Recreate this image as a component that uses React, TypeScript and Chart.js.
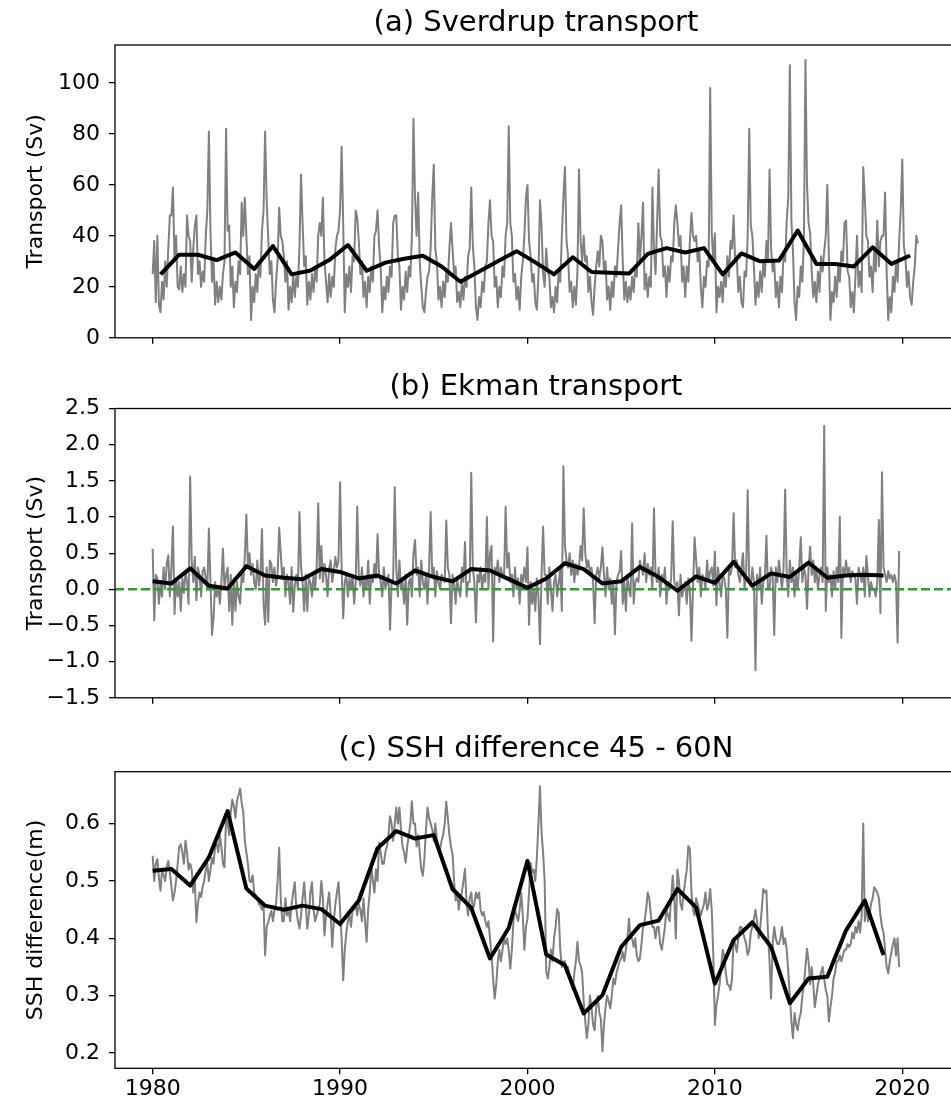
import React, { useEffect, useRef } from 'react';
import { Chart, registerables } from 'chart.js';

Chart.register(...registerables);

const FONT = "'DejaVu Sans', sans-serif";
const START_YEAR = 1980;
const X_MIN = 1977.99;
const X_MAX = 2022.92;
const X_TICKS = [1980, 1990, 2000, 2010, 2020];

// (a) Sverdrup transport, monthly (Sv), one row per year 1980..2020
const SV_MONTHLY: number[][] = [
  [25, 38, 14, 40, 13, 10, 22, 15, 30, 20, 35, 48],
  [48, 59, 30, 40, 20, 19, 28, 18, 25, 20, 48, 40],
  [38, 22, 35, 44, 48, 25, 30, 20, 26, 22, 40, 50],
  [81, 42, 22, 30, 13, 22, 14, 20, 15, 25, 30, 82],
  [42, 44, 20, 28, 12, 22, 18, 30, 25, 53, 40, 55],
  [40, 25, 32, 7, 20, 14, 25, 18, 30, 24, 42, 50],
  [81, 54, 39, 25, 30, 15, 10, 22, 30, 51, 40, 38],
  [32, 22, 30, 11, 20, 14, 25, 16, 24, 20, 36, 64],
  [45, 28, 32, 13, 22, 15, 25, 18, 28, 22, 40, 45],
  [40, 55, 30, 22, 14, 25, 16, 24, 20, 35, 40, 42],
  [50, 75, 45, 10, 25, 20, 28, 18, 32, 30, 50, 47],
  [38, 25, 30, 16, 22, 12, 24, 18, 28, 22, 40, 42],
  [50, 36, 28, 10, 20, 15, 24, 18, 28, 24, 45, 48],
  [48, 32, 28, 11, 20, 15, 26, 18, 28, 24, 40, 86],
  [55, 40, 57, 30, 20, 12, 10, 18, 24, 26, 35, 55],
  [68, 35, 30, 15, 20, 12, 22, 16, 26, 22, 35, 45],
  [35, 25, 28, 14, 18, 12, 22, 15, 24, 20, 32, 35],
  [59, 36, 28, 12, 7, 16, 12, 22, 18, 28, 30, 45],
  [54, 40, 38, 20, 24, 12, 20, 16, 28, 24, 40, 45],
  [83, 45, 40, 22, 25, 15, 20, 11, 24, 30, 40, 55],
  [60, 38, 32, 22, 25, 14, 11, 24, 54, 44, 25, 20],
  [35, 26, 24, 12, 16, 10, 20, 14, 26, 22, 40, 55],
  [67, 38, 32, 18, 22, 12, 20, 13, 26, 66, 38, 30],
  [40, 30, 32, 18, 24, 14, 9, 20, 28, 34, 28, 40],
  [38, 26, 30, 15, 20, 11, 22, 16, 28, 24, 35, 45],
  [52, 30, 15, 22, 14, 20, 15, 24, 18, 28, 24, 45],
  [30, 40, 53, 19, 25, 16, 24, 20, 59, 35, 25, 45],
  [66, 40, 38, 24, 28, 16, 28, 22, 32, 30, 45, 52],
  [45, 36, 40, 22, 28, 16, 28, 22, 38, 49, 40, 38],
  [40, 30, 35, 20, 12, 24, 20, 30, 28, 98, 41, 30],
  [41, 10, 20, 16, 22, 14, 26, 20, 32, 24, 38, 35],
  [48, 30, 32, 18, 24, 14, 12, 26, 24, 40, 82, 44],
  [40, 28, 13, 22, 16, 26, 18, 30, 24, 38, 30, 66],
  [35, 26, 30, 16, 22, 12, 24, 18, 34, 30, 46, 55],
  [107, 46, 34, 14, 7, 20, 16, 28, 22, 38, 109, 60],
  [45, 41, 26, 16, 22, 14, 26, 18, 32, 26, 34, 40],
  [60, 32, 7, 18, 14, 24, 16, 28, 22, 34, 30, 45],
  [46, 26, 24, 12, 18, 10, 24, 40, 20, 26, 18, 67],
  [55, 40, 38, 24, 28, 18, 34, 26, 46, 28, 38, 40],
  [40, 57, 26, 7, 16, 10, 24, 18, 30, 22, 38, 50],
  [70, 36, 32, 20, 26, 16, 13, 22, 28, 40, 37],
];
// (a) annual means 1980..2020
const SV_ANNUAL = [
  24.9, 32.6, 32.6, 30.5, 33.5, 27, 36, 24.9, 26.4, 30.5,
  36.4, 26.3, 29.5, 31, 32.2, 28, 22, 26, 30, 34,
  29.6, 24.9, 31.6, 25.8, 25.5, 25.2, 32.9, 35.2, 33.5, 35.2,
  24.9, 33.1, 30, 30.3, 42.1, 29, 29, 28, 35.5, 29, 32.3,
];
const SV_ANNUAL_OFFSET = 0.42;

// (b) Ekman transport, monthly (Sv), 1980..2019
const EK_MONTHLY: number[][] = [
  [0.56, -0.43, 0.2, 0.15, -0.2, 0.1, -0.1, 0.3, 0.0, 0.35, 0.47, -0.1],
  [0.3, 0.87, -0.34, 0.15, -0.1, 0.1, -0.3, 0.15, -0.05, 0.25, 0.1, -0.2],
  [1.56, 0.4, 0.1, 0.45, -0.15, 0.3, 0.2, -0.1, 0.25, 0.3, 0.15, 0.0],
  [0.84, 0.1, -0.63, -0.4, 0.1, -0.1, 0.05, -0.2, 0.1, 0.56, 0.0, 0.2],
  [0.3, -0.3, 0.2, -0.49, 0.15, -0.3, 0.1, -0.1, -0.2, 0.2, 0.1, 0.45],
  [1.03, 0.3, 0.5, 0.2, 0.35, 0.1, 0.0, 0.4, 0.05, 0.2, 0.83, -0.2],
  [-0.49, 0.3, -0.45, 0.4, 0.35, 0.1, 0.3, 0.05, 0.2, 0.85, 0.5, 0.15],
  [0.3, -0.1, 0.2, 0.1, -0.2, 0.3, -0.31, 0.05, 0.2, 0.0, 1.07, 0.3],
  [0.1, -0.3, 0.2, -0.3, 0.15, 0.1, -0.1, 0.2, 0.0, 0.3, 1.19, 0.15],
  [0.6, 0.1, 0.35, 0.2, -0.1, 0.3, 0.4, 0.1, 0.25, 0.45, 0.3, 0.4],
  [1.48, 0.3, -0.4, 0.1, 0.2, -0.1, 0.15, 0.0, 0.2, -0.2, 0.1, 1.14],
  [0.2, 0.05, 0.3, -0.1, 0.15, 0.0, 0.4, -0.2, 0.2, 0.1, 0.35, 0.15],
  [0.76, 0.2, 0.1, -0.1, 0.3, 0.0, 0.1, 0.2, -0.56, 0.1, 0.15, 1.41],
  [0.3, -0.1, 0.4, 0.0, 0.1, -0.2, 0.2, -0.49, 0.1, 0.15, -0.1, 0.5],
  [0.68, 0.2, 0.3, -0.1, 0.4, 0.1, 0.0, 0.2, -0.2, 0.3, 1.07, 0.2],
  [0.3, -0.1, 0.25, 0.1, 0.0, 0.2, 0.15, 0.1, 0.95, 0.3, 0.2, -0.47],
  [0.2, 0.1, -0.2, 0.15, 0.0, -0.1, 0.3, 0.1, 0.65, -0.1, 0.1, 0.1],
  [1.61, 0.3, 0.1, -0.46, 0.2, 0.1, 0.3, 0.0, 0.2, 0.1, 1.0, 0.0],
  [0.5, 0.6, -0.72, 0.3, 0.2, 0.4, 0.1, 0.3, 0.2, 0.15, 1.14, 0.3],
  [0.5, 0.1, 0.2, -0.1, 0.3, 0.0, 0.15, -0.2, 0.2, 0.1, 0.3, 0.1],
  [0.58, -0.49, 0.1, -0.2, 0.0, -0.3, 0.15, -0.1, -0.76, 0.2, 0.87, 0.2],
  [0.2, -0.2, 0.3, 0.0, -0.3, 0.1, 0.2, -0.1, 0.1, 0.3, -0.3, 1.7],
  [0.6, 0.4, 0.3, 0.5, 0.2, 0.4, 0.1, 0.35, 0.2, 0.3, 0.6, 0.4],
  [1.12, 0.5, 0.3, 0.4, 0.2, 0.3, 0.1, -0.47, 0.2, 0.3, 0.15, 0.3],
  [0.58, 0.2, -0.1, 0.3, 0.0, 0.15, -0.2, 0.1, -0.62, 0.1, 0.2, 0.25],
  [0.53, -0.2, 0.1, -0.3, 0.2, 0.0, -0.1, 0.91, -0.2, 0.1, 0.15, 0.1],
  [0.4, 0.3, 0.2, 0.5, 0.1, 0.35, 0.2, 0.3, 0.0, 1.12, 0.2, 0.1],
  [0.3, -0.1, 0.2, 0.1, 0.3, -0.2, 0.1, 0.0, 0.15, 0.94, 0.1, 0.05],
  [0.1, -0.36, 0.2, -0.1, 0.0, 0.1, -0.2, 0.15, 0.0, -0.71, 0.0, 0.72],
  [0.4, 0.1, 0.3, -0.1, 0.2, 0.15, 0.0, 0.4, 0.1, 0.25, 0.3, 0.05],
  [0.52, -0.22, 0.3, 0.1, -0.1, 0.2, 0.15, 0.0, -0.67, 0.3, 0.2, 0.3],
  [1.05, 0.3, 0.4, 0.2, 0.1, 0.3, 0.5, 0.0, 0.2, 1.37, 0.1, 0.05],
  [0.3, 0.1, -1.12, 0.2, 0.0, 0.3, -0.2, 0.1, 0.15, 0.74, 0.0, 0.0],
  [0.3, 0.2, -0.63, 0.3, 0.1, 0.4, 0.2, 0.0, 0.3, 1.38, 0.2, -0.1],
  [0.4, 0.1, 0.3, -0.1, 0.2, 0.0, 0.3, 0.72, 0.1, 0.3, 0.2, -0.27],
  [0.3, 0.59, 0.2, 0.4, 0.1, 0.3, 0.0, 0.2, 0.3, 0.1, 2.26, -0.3],
  [0.3, 0.1, 0.2, -0.1, 0.25, 0.0, 0.3, 0.1, 1.0, -0.67, 0.3, 0.2],
  [0.4, 0.2, 0.3, 0.1, 0.25, 0.2, 0.15, -0.2, 0.3, 0.2, 0.1, 0.3],
  [-0.1, 0.46, 0.2, -0.1, 0.1, 0.0, 0.0, -0.1, 0.1, 0.96, -0.33, 1.62],
  [0.3, 0.2, 0.1, 0.25, 0.15, 0.2, 0.1, 0.2, 0.1, -0.74, 0.53],
];
const EK_ANNUAL = [
  0.11, 0.08, 0.29, 0.05, 0.01, 0.32, 0.19, 0.16, 0.14, 0.28,
  0.24, 0.15, 0.19, 0.08, 0.26, 0.17, 0.11, 0.28, 0.26, 0.14,
  0.02, 0.15, 0.36, 0.28, 0.08, 0.11, 0.31, 0.17, -0.02, 0.18,
  0.09, 0.38, 0.05, 0.22, 0.17, 0.37, 0.16, 0.19, 0.2, 0.19,
];

// (c) SSH difference 45-60N, monthly (m), 1980..2019
const SSH_MONTHLY: number[][] = [
  [0.544, 0.5, 0.53, 0.538, 0.505, 0.483, 0.52, 0.51, 0.5, 0.525, 0.535, 0.515],
  [0.49, 0.466, 0.48, 0.5, 0.53, 0.56, 0.564, 0.55, 0.53, 0.57, 0.55, 0.52],
  [0.53, 0.52, 0.48, 0.5, 0.428, 0.46, 0.48, 0.472, 0.49, 0.5, 0.52, 0.53],
  [0.5, 0.52, 0.54, 0.53, 0.56, 0.565, 0.55, 0.58, 0.56, 0.53, 0.524, 0.61],
  [0.6, 0.58, 0.62, 0.642, 0.63, 0.61, 0.64, 0.65, 0.661, 0.636, 0.62, 0.57],
  [0.55, 0.53, 0.5, 0.498, 0.51, 0.48, 0.475, 0.47, 0.46, 0.457, 0.45, 0.46],
  [0.37, 0.42, 0.428, 0.44, 0.448, 0.43, 0.45, 0.46, 0.5, 0.558, 0.47, 0.43],
  [0.43, 0.47, 0.44, 0.45, 0.43, 0.46, 0.48, 0.498, 0.45, 0.43, 0.417, 0.44],
  [0.47, 0.498, 0.46, 0.417, 0.44, 0.48, 0.498, 0.45, 0.43, 0.44, 0.45, 0.46],
  [0.5, 0.47, 0.405, 0.44, 0.46, 0.48, 0.44, 0.385, 0.43, 0.46, 0.48, 0.498],
  [0.45, 0.4, 0.327, 0.38, 0.41, 0.43, 0.44, 0.42, 0.45, 0.45, 0.46, 0.44],
  [0.46, 0.45, 0.43, 0.47, 0.43, 0.394, 0.45, 0.48, 0.527, 0.5, 0.48, 0.52],
  [0.5, 0.567, 0.55, 0.53, 0.53, 0.55, 0.56, 0.58, 0.613, 0.6, 0.57, 0.6],
  [0.628, 0.6, 0.628, 0.59, 0.56, 0.55, 0.532, 0.56, 0.58, 0.6, 0.639, 0.6],
  [0.6, 0.56, 0.58, 0.55, 0.52, 0.509, 0.54, 0.59, 0.628, 0.61, 0.6, 0.59],
  [0.57, 0.6, 0.573, 0.56, 0.555, 0.57, 0.58, 0.6, 0.638, 0.61, 0.58, 0.56],
  [0.547, 0.5, 0.466, 0.48, 0.45, 0.47, 0.48, 0.5, 0.521, 0.46, 0.44, 0.47],
  [0.48, 0.45, 0.46, 0.48, 0.47, 0.48, 0.45, 0.44, 0.446, 0.43, 0.42, 0.43],
  [0.4, 0.37, 0.33, 0.295, 0.32, 0.36, 0.38, 0.36, 0.38, 0.4, 0.39, 0.4],
  [0.38, 0.347, 0.38, 0.43, 0.45, 0.44, 0.43, 0.45, 0.48, 0.44, 0.38, 0.42],
  [0.434, 0.48, 0.532, 0.515, 0.52, 0.5, 0.54, 0.6, 0.665, 0.584, 0.55, 0.5],
  [0.342, 0.33, 0.35, 0.38, 0.36, 0.4, 0.42, 0.451, 0.445, 0.38, 0.35, 0.36],
  [0.36, 0.34, 0.35, 0.33, 0.32, 0.31, 0.34, 0.36, 0.394, 0.36, 0.353, 0.34],
  [0.29, 0.255, 0.226, 0.25, 0.3, 0.28, 0.25, 0.24, 0.28, 0.3, 0.27, 0.26],
  [0.203, 0.25, 0.28, 0.3, 0.29, 0.278, 0.3, 0.33, 0.32, 0.34, 0.35, 0.36],
  [0.365, 0.376, 0.36, 0.38, 0.4, 0.434, 0.4, 0.4, 0.385, 0.4, 0.37, 0.36],
  [0.365, 0.39, 0.42, 0.43, 0.45, 0.48, 0.47, 0.44, 0.42, 0.42, 0.4, 0.42],
  [0.42, 0.39, 0.38, 0.4, 0.42, 0.45, 0.44, 0.43, 0.47, 0.509, 0.47, 0.4],
  [0.52, 0.5, 0.46, 0.45, 0.48, 0.5, 0.52, 0.561, 0.556, 0.48, 0.45, 0.44],
  [0.47, 0.46, 0.45, 0.44, 0.45, 0.46, 0.48, 0.45, 0.46, 0.486, 0.45, 0.37],
  [0.249, 0.284, 0.3, 0.32, 0.35, 0.38, 0.37, 0.34, 0.32, 0.318, 0.31, 0.33],
  [0.4, 0.39, 0.376, 0.4, 0.42, 0.42, 0.41, 0.4, 0.39, 0.371, 0.38, 0.41],
  [0.42, 0.434, 0.45, 0.43, 0.4, 0.417, 0.45, 0.486, 0.48, 0.483, 0.41, 0.36],
  [0.295, 0.39, 0.42, 0.4, 0.39, 0.39, 0.4, 0.42, 0.39, 0.4, 0.38, 0.342],
  [0.3, 0.255, 0.226, 0.27, 0.25, 0.24, 0.26, 0.27, 0.3, 0.32, 0.35, 0.382],
  [0.36, 0.32, 0.35, 0.32, 0.28, 0.3, 0.32, 0.33, 0.34, 0.35, 0.33, 0.31],
  [0.3, 0.255, 0.28, 0.3, 0.33, 0.34, 0.36, 0.36, 0.37, 0.36, 0.37, 0.38],
  [0.38, 0.39, 0.385, 0.39, 0.41, 0.4, 0.42, 0.41, 0.43, 0.41, 0.44, 0.6],
  [0.43, 0.46, 0.43, 0.44, 0.46, 0.47, 0.489, 0.485, 0.48, 0.47, 0.44, 0.42],
  [0.41, 0.38, 0.35, 0.339, 0.36, 0.375, 0.39, 0.4, 0.37, 0.4, 0.35],
];
const SSH_ANNUAL = [
  0.518, 0.521, 0.492, 0.541, 0.622, 0.487, 0.457, 0.45, 0.457, 0.451,
  0.425, 0.466, 0.557, 0.587, 0.574, 0.58, 0.486, 0.453, 0.365, 0.418,
  0.535, 0.372, 0.353, 0.269, 0.301, 0.385, 0.423, 0.431, 0.486, 0.454,
  0.321, 0.397, 0.428, 0.385, 0.287, 0.33, 0.333, 0.414, 0.466, 0.371,
];

const SV_Y_TICKS = [0, 20, 40, 60, 80, 100];
const EK_Y_TICKS = [-1.5, -1.0, -0.5, 0.0, 0.5, 1.0, 1.5, 2.0, 2.5];
const SSH_Y_TICKS = [0.2, 0.3, 0.4, 0.5, 0.6];

function monthlyPoints(rows: number[][]) {
  const pts: { x: number; y: number }[] = [];
  rows.forEach((row, i) =>
    row.forEach((v, m) => pts.push({ x: START_YEAR + i + m / 12, y: v }))
  );
  return pts;
}

function annualPoints(vals: number[], offset: number) {
  return vals.map((v, i) => ({ x: START_YEAR + i + offset, y: v }));
}

const fmt = (d: number) => (v: number) => {
  const s = Number(v).toFixed(d);
  return s.startsWith('-') ? '\u2212' + s.slice(1) : s;
};

const framePlugin = {
  id: 'frame',
  afterDatasetsDraw(chart: any) {
    const { ctx, chartArea: a } = chart;
    ctx.save();
    ctx.strokeStyle = '#000';
    ctx.lineWidth = 1.3;
    ctx.strokeRect(a.left, a.top, a.right - a.left, a.bottom - a.top);
    ctx.restore();
  },
};

interface PanelSpec {
  title: string;
  yLabel: string;
  yMin: number;
  yMax: number;
  yTicks: number[];
  yFmt: (v: number) => string;
  monthly: { x: number; y: number }[];
  annual: { x: number; y: number }[];
  zeroLine: boolean;
  showXLabels: boolean;
  titlePad: { top: number; bottom: number };
  padBottom: number;
  xAxisHeight: number;
}

const CANVAS_W = 960;
const TICK_LEN = 6;
const TITLE_SIZE = 29;

function buildConfig(p: PanelSpec): any {
  const datasets: any[] = [
    {
      data: p.annual,
      borderColor: '#000',
      borderWidth: 4,
      pointRadius: 0,
      borderJoinStyle: 'round',
      order: 0,
    },
  ];
  if (p.zeroLine) {
    datasets.push({
      data: [
        { x: X_MIN, y: 0 },
        { x: X_MAX, y: 0 },
      ],
      borderColor: '#2ca02c',
      borderWidth: 2.6,
      borderDash: [9, 4],
      pointRadius: 0,
      order: 1,
    });
  }
  datasets.push({
    data: p.monthly,
    borderColor: '#808080',
    borderWidth: 2,
    pointRadius: 0,
    borderJoinStyle: 'round',
    order: 2,
  });

  const gridOpts = {
    display: true,
    drawOnChartArea: false,
    drawTicks: true,
    tickLength: TICK_LEN,
    color: '#000',
    lineWidth: 1.3,
  };

  return {
    type: 'line',
    data: { datasets },
    plugins: [framePlugin],
    options: {
      responsive: false,
      animation: false,
      devicePixelRatio: 1,
      layout: { padding: { left: 0, right: 3, top: 0, bottom: p.padBottom } },
      elements: { point: { radius: 0 }, line: { tension: 0 } },
      plugins: {
        legend: { display: false },
        tooltip: { enabled: false },
        title: {
          display: true,
          text: p.title,
          fullSize: false,
          color: '#000',
          font: { family: FONT, size: TITLE_SIZE, weight: 'normal', lineHeight: 1.2 },
          padding: p.titlePad,
        },
      },
      scales: {
        x: {
          type: 'linear',
          min: X_MIN,
          max: X_MAX,
          afterBuildTicks: (s: any) => {
            s.ticks = X_TICKS.map((v) => ({ value: v }));
          },
          afterFit: (s: any) => {
            s.height = p.xAxisHeight;
          },
          grid: gridOpts,
          border: { display: false },
          ticks: {
            display: p.showXLabels,
            autoSkip: false,
            maxRotation: 0,
            padding: 2,
            color: '#000',
            font: { family: FONT, size: 22 },
            callback: (v: number) => String(v),
          },
        },
        y: {
          type: 'linear',
          min: p.yMin,
          max: p.yMax,
          afterBuildTicks: (s: any) => {
            s.ticks = p.yTicks.map((v) => ({ value: v }));
          },
          afterFit: (s: any) => {
            s.width = 115;
          },
          grid: gridOpts,
          border: { display: false },
          ticks: {
            autoSkip: false,
            padding: 9,
            color: '#000',
            font: { family: FONT, size: 22 },
            callback: (v: number) => p.yFmt(v),
          },
          title: {
            display: true,
            text: p.yLabel,
            color: '#000',
            font: { family: FONT, size: 22, lineHeight: 1.2 },
            padding: { top: 23, bottom: 0 },
          },
        },
      },
    },
  };
}

function Panel({ spec, top, height }: { spec: PanelSpec; top: number; height: number }) {
  const ref = useRef<HTMLCanvasElement | null>(null);
  useEffect(() => {
    if (!ref.current) return;
    const chart = new Chart(ref.current, buildConfig(spec));
    return () => chart.destroy();
  }, []);
  return (
    <canvas
      ref={ref}
      width={CANVAS_W}
      height={height}
      style={{ position: 'absolute', left: 0, top, width: CANVAS_W, height }}
    />
  );
}

const PANEL_A: PanelSpec = {
  title: '(a) Sverdrup transport',
  yLabel: 'Transport (Sv)',
  yMin: 0,
  yMax: 114.9,
  yTicks: SV_Y_TICKS,
  yFmt: fmt(0),
  monthly: monthlyPoints(SV_MONTHLY),
  annual: annualPoints(SV_ANNUAL, SV_ANNUAL_OFFSET),
  zeroLine: false,
  showXLabels: false,
  titlePad: { top: 5.6, bottom: 4.6 },
  padBottom: 12,
  xAxisHeight: TICK_LEN,
};

const PANEL_B: PanelSpec = {
  title: '(b) Ekman transport',
  yLabel: 'Transport (Sv)',
  yMin: -1.5,
  yMax: 2.5,
  yTicks: EK_Y_TICKS,
  yFmt: fmt(1),
  monthly: monthlyPoints(EK_MONTHLY),
  annual: annualPoints(EK_ANNUAL, 0),
  zeroLine: true,
  showXLabels: false,
  titlePad: { top: 9.6, bottom: 4.1 },
  padBottom: 9.5,
  xAxisHeight: TICK_LEN,
};

const PANEL_C: PanelSpec = {
  title: '(c) SSH difference 45 - 60N',
  yLabel: 'SSH difference(m)',
  yMin: 0.1735,
  yMax: 0.6905,
  yTicks: SSH_Y_TICKS,
  yFmt: fmt(1),
  monthly: monthlyPoints(SSH_MONTHLY),
  annual: annualPoints(SSH_ANNUAL, 0),
  zeroLine: false,
  showXLabels: true,
  titlePad: { top: 11.6, bottom: 5.3 },
  padBottom: 6.7,
  xAxisHeight: 30,
};

export default function App() {
  return (
    <div
      style={{
        position: 'absolute',
        left: 0,
        top: 0,
        width: 951,
        height: 1105,
        overflow: 'hidden',
        background: '#fff',
      }}
    >
      <Panel spec={PANEL_A} top={0} height={360} />
      <Panel spec={PANEL_B} top={360} height={360} />
      <Panel spec={PANEL_C} top={720} height={385} />
    </div>
  );
}
